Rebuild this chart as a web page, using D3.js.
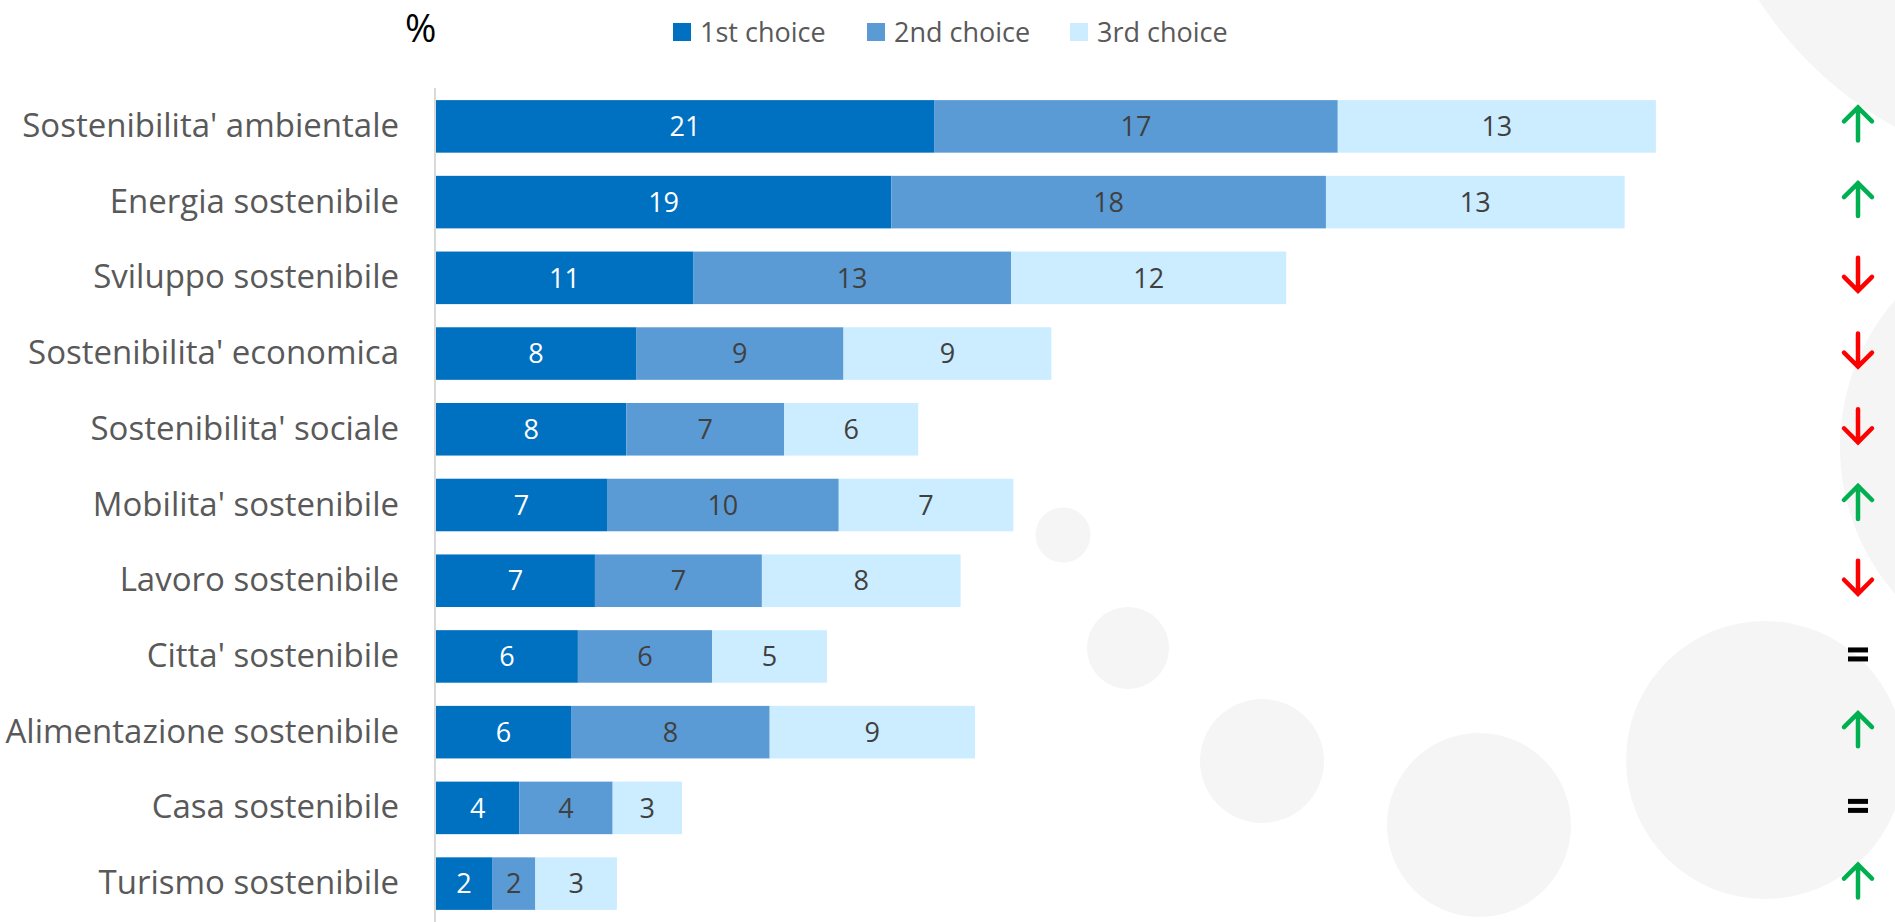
<!DOCTYPE html>
<html>
<head>
<meta charset="utf-8">
<script src="https://cdn.jsdelivr.net/npm/d3@7"></script>
<style>
  body { margin: 0; background: #fff; }
  svg { display: block; font-family: 'Open Sans', 'Noto Sans', sans-serif; }
</style>
</head>
<body>
<div id="chart-container"></div>
<script>
// data (labels show rounded values)
const categories = [
  "Sostenibilita' ambientale", 'Energia sostenibile', 'Sviluppo sostenibile',
  "Sostenibilita' economica", "Sostenibilita' sociale", "Mobilita' sostenibile",
  'Lavoro sostenibile', "Citta' sostenibile", 'Alimentazione sostenibile',
  'Casa sostenibile', 'Turismo sostenibile'
];
const firstChoice = [21.06, 19.25, 10.87, 8.46, 8.05, 7.23, 6.72, 6.0, 5.71, 3.52, 2.37];
const secondChoice = [17.07, 18.38, 13.45, 8.77, 6.67, 9.8, 7.06, 5.67, 8.4, 3.95, 1.83];
const thirdChoice = [13.45, 12.63, 11.63, 8.79, 5.67, 7.38, 8.4, 4.86, 8.68, 2.93, 3.45];
const trends = ['up', 'up', 'down', 'down', 'down', 'up', 'down', 'same', 'up', 'same', 'up'];
const seriesNames = ['1st choice', '2nd choice', '3rd choice'];
const unitLabel = '%';

const colors = ['#0070C0', '#5B9BD5', '#CCECFF'];
const labelColors = ['#ffffff', '#404040', '#404040'];

const width = 1895, height = 922;

const svg = d3.select('#chart-container')
  .append('svg')
  .attr('width', width)
  .attr('height', height);

// background decoration circles
const bgCircles = [
  { cx: 2078, cy: -206, r: 380 },
  { cx: 2064, cy: 447, r: 224 },
  { cx: 1063, cy: 535, r: 27.5 },
  { cx: 1128, cy: 648, r: 41 },
  { cx: 1262, cy: 761, r: 62 },
  { cx: 1479, cy: 825, r: 92 },
  { cx: 1765, cy: 760, r: 139 }
];
svg.append('g')
  .selectAll('circle')
  .data(bgCircles)
  .enter()
  .append('circle')
  .attr('cx', d => d.cx)
  .attr('cy', d => d.cy)
  .attr('r', d => d.r)
  .attr('fill', '#F5F5F5');

// stack the three series
const rows = categories.map((c, i) => ({
  category: c,
  s0: firstChoice[i],
  s1: secondChoice[i],
  s2: thirdChoice[i]
}));
const stack = d3.stack().keys(['s0', 's1', 's2']);
const series = stack(rows);

const x = d3.scaleLinear()
  .domain([0, 60])
  .range([436, 1855]);

const y = d3.scaleBand()
  .domain(categories)
  .range([88, 922])
  .paddingInner(0.306)
  .paddingOuter(0.16);

// bars
const layers = svg.append('g')
  .selectAll('g')
  .data(series)
  .enter()
  .append('g')
  .attr('fill', (d, i) => colors[i]);

layers.selectAll('rect')
  .data(d => d)
  .enter()
  .append('rect')
  .attr('x', d => x(d[0]))
  .attr('y', d => y(d.data.category))
  .attr('width', d => x(d[1]) - x(d[0]))
  .attr('height', y.bandwidth());

// value labels
series.forEach((s, i) => {
  svg.append('g')
    .selectAll('text')
    .data(s)
    .enter()
    .append('text')
    .attr('x', d => (x(d[0]) + x(d[1])) / 2)
    .attr('y', d => y(d.data.category) + y.bandwidth() / 2)
    .attr('text-anchor', 'middle')
    .attr('dy', '0.36em')
    .attr('font-size', 27)
    .attr('fill', labelColors[i])
    .text(d => d3.format('.0f')(d[1] - d[0]));
});

// category axis
const yAxis = svg.append('g')
  .attr('transform', 'translate(435,0)')
  .call(d3.axisLeft(y).tickSize(0).tickPadding(36));
yAxis.select('.domain')
  .attr('d', `M0,88V922`)
  .attr('stroke', '#D9D9D9')
  .attr('stroke-width', 2);
yAxis.selectAll('text')
  .attr('font-size', 33)
  .attr('font-family', "'Open Sans', sans-serif")
  .attr('fill', '#595959');

// trend markers
const trendColor = { up: '#00B050', down: '#FF0000' };
const markX = 1858;
const marks = svg.append('g')
  .selectAll('g')
  .data(categories.map((c, i) => ({ category: c, trend: trends[i] })))
  .enter()
  .append('g')
  .attr('transform', d => `translate(${markX},${y(d.category) + y.bandwidth() / 2 - 3})`);

marks.filter(d => d.trend !== 'same')
  .append('path')
  .attr('d', d => d.trend === 'up'
    ? 'M0,17V-16M-14,-2L0,-16L14,-2'
    : 'M0,-17V16M-14,2L0,16L14,2')
  .attr('fill', 'none')
  .attr('stroke', d => trendColor[d.trend])
  .attr('stroke-width', 4.5)
  .attr('stroke-linecap', 'round')
  .attr('stroke-linejoin', 'miter');

marks.filter(d => d.trend === 'same')
  .selectAll('rect')
  .data([-6, 3])
  .enter()
  .append('rect')
  .attr('x', -10)
  .attr('y', d => d)
  .attr('width', 20)
  .attr('height', 5)
  .attr('fill', '#000');

// unit label
svg.append('text')
  .attr('x', 405)
  .attr('y', 42)
  .attr('font-size', 38)
  .attr('fill', '#000')
  .text(unitLabel);

// legend
const legendX = [673, 867, 1070];
const legend = svg.append('g')
  .selectAll('g')
  .data(seriesNames)
  .enter()
  .append('g')
  .attr('transform', (d, i) => `translate(${legendX[i]},23)`);

legend.append('rect')
  .attr('width', 18)
  .attr('height', 18)
  .attr('fill', (d, i) => colors[i]);

legend.append('text')
  .attr('x', 27)
  .attr('y', 9)
  .attr('dy', '0.36em')
  .attr('font-size', 27)
  .attr('fill', '#595959')
  .text(d => d);
</script>
</body>
</html>
